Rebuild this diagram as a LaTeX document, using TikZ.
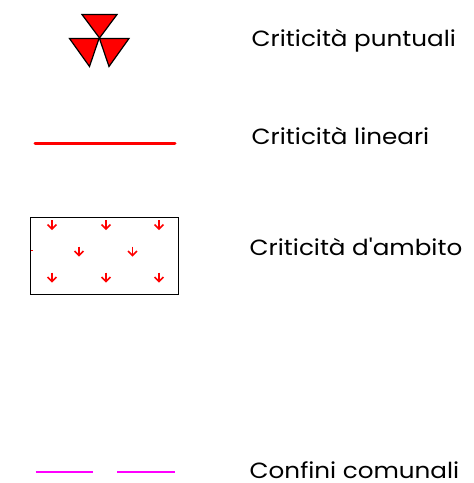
\documentclass[tikz,border=0pt]{standalone}
\usepackage{fontspec}
\setmainfont{Poppins}[FakeStretch=1.12,Ligatures=TeXOff]
\definecolor{mag}{RGB}{255,0,255}
\definecolor{rd}{RGB}{255,0,0}
\begin{document}
\begin{tikzpicture}[x=1pt,y=-1pt,
  tri/.style={draw=black,fill=rd,line width=1.2pt,line join=miter},
  lbl/.style={anchor=base west,inner sep=0pt,font=\fontsize{22}{24}\selectfont},
  redline/.style={draw=rd,line width=3pt,line cap=round},
  magline/.style={draw=mag,line width=1.1pt},
  dn/.style={draw=rd,line width=1.5pt}]
\useasboundingbox (0,0) rectangle (474,483);
% point symbol
\draw[tri] (82,14.5) -- (117,14.5) -- (99.5,38) -- cycle;
\draw[tri] (69.5,38.5) -- (99,38.5) -- (89.5,66.5) -- cycle;
\draw[tri] (99.5,38.5) -- (129,38.5) -- (109,66.5) -- cycle;
% linear
\coordinate (l1) at (35,143);
\coordinate (l2) at (175,143);
\draw[redline] (l1) -- (l2);
% area
\node[draw=black,line width=1.3pt,minimum width=148pt,minimum height=77pt,inner sep=0pt,anchor=north west] (area) at (30,216.5) {};
\foreach \x/\y in {52/225,106/225,159/225,79/251.5,132.5/251.5,52/277.5,106/277.5,159/277.5}{
  \draw[dn] (\x,\y-5) -- (\x,\y+4);
  \draw[dn] (\x-4.5,\y-0.5) -- (\x,\y+4) -- (\x+4.5,\y-0.5);
}
\draw[rd,line width=1pt] (30.5,250.5) -- (32.5,250.5);
% boundaries
\coordinate (m1) at (35.5,472);
\coordinate (m2) at (92.5,472);
\coordinate (m3) at (117,472);
\coordinate (m4) at (174.5,472);
\draw[magline] (m1) -- (m2);
\draw[magline] (m3) -- (m4);
% labels
\node[lbl] (t1) at (251.5,46.5) {Criticità puntuali};
\node[lbl] (t2) at (251.5,144.3) {Criticità lineari};
\node[lbl] (t3) at (249.5,255.7) {Criticità d'ambito};
\node[lbl] (t4) at (249.5,478.3) {Confini comunali};
\end{tikzpicture}
\end{document}
